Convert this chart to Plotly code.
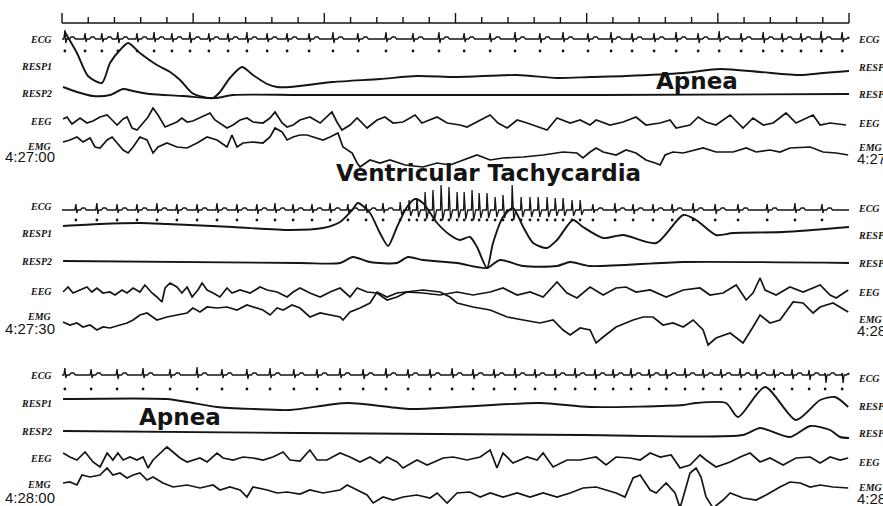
import plotly.graph_objects as go

# ---------------- data (seconds within each 30 s epoch; amplitudes in trace units) -------------
ruler_ticks = list(range(0, 31))
ruler_major_every = 5

# ---- Epoch 1 (4:27:00) ----
p1_ecg_t = [0.11, 0.88, 1.52, 2.13, 2.86, 3.51, 4.19, 4.88, 5.60, 6.33, 7.05, 7.82, 8.58, 9.42,
            10.33, 11.28, 12.35, 13.38, 14.37, 15.33, 16.32, 17.27, 18.22, 19.10, 20.05, 20.93,
            21.73, 22.57, 23.41, 24.25, 25.05, 25.89, 26.73, 27.45, 28.17, 28.94, 29.74]
p1_ecg_r = [9, 6, 6, 7, 6, 7, 6, 7, 6, 6, 7, 6, 6, 6, 7, 6, 7, 6, 7, 6, 6, 7, 6, 7, 6, 7, 6, 6, 7, 6,
            8, 6, 7, 6, 6, 8, 7]
p1_ecg_s = [4, 3, 3, 4, 3, 3, 3, 4, 3, 3, 4, 3, 3, 3, 4, 3, 3, 3, 4, 3, 3, 3, 4, 3, 3, 4, 3, 3, 3, 4,
            3, 3, 4, 3, 3, 4, 3]

p1_resp1_t = [0.11, 0.57, 0.99, 1.52, 1.83, 2.21, 2.52, 2.97, 3.62, 4.12, 4.50, 4.96, 5.38, 5.76,
              6.02, 6.40, 6.86, 7.28, 7.82, 8.20, 8.69, 10.33, 12.12, 13.53, 15.06, 17.35, 18.87,
              20.13, 21.50, 23.68, 25.09, 26.61, 28.14, 29.01, 30.0]
p1_resp1_v = [34, 13, -10, -17, 3, 16, 23, 13, 1, -6, -14, -27, -31, -32, -26, -12, -1, -9, -18,
              -21, -21, -16, -13, -10, -11, -9, -12, -11, -10, -7, -3, -6, -9, -7, -5]

p1_resp2_t = [0.04, 0.57, 1.18, 1.83, 2.33, 2.71, 3.35, 4.61, 5.53, 5.91, 6.52, 9.07, 14.79, 20.51, 30.0]
p1_resp2_v = [6, 1, -3, -2, 4, 2, -1, -3, -5, -5, -2, -2, -2, -2, -1]

p1_eeg_t = [0.04, 0.19, 0.38, 0.69, 0.95, 1.18, 1.45, 1.72, 1.91, 2.10, 2.33, 2.48, 2.67, 2.86,
            3.09, 3.28, 3.47, 3.66, 3.93, 4.12, 4.38, 4.57, 4.77, 4.99, 5.26, 5.64, 5.83, 6.02,
            6.29, 6.52, 6.79, 7.05, 7.28, 7.66, 7.93, 8.12, 8.39, 8.58, 8.81, 9.07, 9.45, 9.84,
            10.10, 10.29, 10.48, 10.67, 10.98, 11.25, 11.63, 12.01, 12.31, 12.62, 13.00, 13.46,
            13.72, 14.30, 14.68, 15.17, 15.44, 15.82, 16.32, 16.62, 16.97, 17.35, 17.73, 18.49,
            18.87, 19.37, 19.75, 20.13, 20.36, 20.89, 21.39, 21.88, 22.26, 22.80, 23.18, 23.41,
            23.94, 24.25, 24.55, 24.93, 25.47, 25.96, 26.34, 26.73, 27.11, 27.60, 27.98, 28.63,
            28.90, 29.28, 29.89]
p1_eeg_v = [3, 5, -2, 4, -1, 1, 5, 7, 2, -3, 3, 5, -6, -8, -1, 5, 14, 7, -5, -3, 0, 4, 0, 1, 4, 9,
            2, -1, -6, -3, 2, 4, 0, -1, 4, 10, -1, -5, -3, 2, 5, -1, 5, 10, 0, -8, -3, 4, -6, 2, 5,
            -1, 0, 7, -1, 5, -1, -3, -5, 0, 7, -1, -6, 2, -1, -8, 4, -1, 2, -3, 2, -3, 0, 5, -3,
            -1, 2, -6, -3, 5, 0, -3, 7, -6, 4, -3, -1, 9, -1, 7, -3, -1, -3]

p1_emg_t = [0.04, 0.30, 0.57, 0.80, 1.07, 1.26, 1.45, 1.72, 1.91, 2.10, 2.33, 2.52, 2.71, 2.97,
            3.24, 3.47, 3.66, 4.00, 4.38, 4.77, 5.15, 5.53, 5.91, 6.29, 6.48, 6.67, 6.90, 7.28,
            7.66, 7.93, 8.12, 8.39, 8.58, 8.81, 9.07, 9.34, 9.72, 9.95, 10.22, 10.52, 10.71, 11.06,
            11.25, 11.36, 11.74, 12.12, 12.50, 13.08, 13.76, 14.30, 14.79, 15.29, 15.82, 16.32,
            16.81, 17.58, 18.34, 19.10, 19.63, 19.86, 20.13, 20.36, 20.63, 21.12, 21.50, 21.88,
            22.26, 22.61, 22.80, 22.99, 23.29, 23.68, 24.17, 24.44, 24.93, 25.58, 26.08, 26.46,
            26.99, 27.37, 27.75, 28.52, 29.01, 29.51, 29.97]
p1_emg_v = [-2, 0, 3, -2, 2, -7, -8, 0, 3, -3, -10, -13, -7, 3, 0, -13, -7, -3, -7, -8, -3, 3, 0,
            -7, 5, -7, -3, -2, -3, 3, 12, 8, 0, 3, 5, 5, 2, 0, 3, 7, -7, -13, -23, -27, -20, -23,
            -20, -25, -27, -23, -25, -20, -15, -20, -18, -17, -15, -12, -13, -18, -12, -8, -12,
            -15, -10, -13, -20, -23, -25, -15, -12, -13, -10, -8, -12, -12, -8, -12, -10, -12, -8,
            -7, -12, -13, -15]

# ---- Epoch 2 (4:27:30) ----
p2_ecg_t = [0.53, 1.33, 2.10, 2.86, 3.62, 4.38, 5.15, 5.91, 6.67, 7.43, 8.12, 8.81, 9.53, 10.22,
            10.90, 11.59, 12.24, 12.89, 13.23, 13.53, 13.84, 14.14, 14.45, 14.75, 15.06, 15.33,
            15.63, 15.90, 16.20, 16.51, 16.81, 17.16, 17.50, 17.84, 18.15, 18.49, 18.80, 19.10,
            19.44, 19.75, 20.24, 21.08, 21.77, 22.53, 23.26, 24.06, 24.90, 25.77, 26.88, 27.94,
            28.97]
p2_ecg_r = [6, 7, 6, 6, 7, 6, 6, 7, 6, 6, 7, 6, 6, 7, 6, 6, 7, 8, 10, 12, 18, 20, 25, 23, 18, 18,
            20, 17, 17, 13, 15, 25, 13, 13, 13, 13, 12, 12, 10, 10, 6, 7, 6, 6, 6, 7, 6, 6, 6, 7, 6]
p2_ecg_s = [3, 4, 3, 3, 3, 4, 3, 3, 3, 4, 3, 3, 3, 3, 4, 3, 3, 5, 6, 7, 9, 10, 10, 9, 8, 9, 10, 8,
            8, 7, 8, 10, 7, 7, 7, 7, 6, 6, 6, 5, 3, 3, 4, 3, 3, 3, 4, 3, 3, 3, 3]

p2_resp1_t = [0.04, 1.45, 2.97, 4.00, 6.52, 8.69, 9.95, 10.60, 11.06, 11.28, 11.74, 12.12, 12.43,
              12.77, 13.15, 13.46, 13.76, 14.30, 14.79, 15.17, 15.55, 15.82, 16.20, 16.43, 16.81,
              17.19, 17.58, 17.96, 18.49, 18.87, 19.48, 19.86, 20.63, 21.39, 22.65, 23.68, 24.17,
              24.93, 25.58, 27.49, 30.0]
p2_resp1_v = [7, 9, 10, 9, 6, 3, 5, 11, 23, 30, 20, 0, -13, 6, 26, 34, 30, 10, -2, -7, -4, -14,
              -35, -10, 16, 25, 6, -10, -15, -7, 13, 6, -5, -2, -10, 18, 13, -2, 0, 1, 6]

p2_resp2_t = [0.04, 9.07, 10.60, 11.09, 11.74, 12.77, 13.19, 13.76, 15.06, 15.82, 16.20, 16.70,
              17.58, 18.87, 19.37, 20.13, 23.68, 30.0]
p2_resp2_v = [0, -2, -2, 4, -1, -2, 4, 1, -2, -6, -7, 1, -5, -5, -1, -5, -1, -2]

p2_eeg_t = [0.04, 0.23, 0.42, 0.69, 0.95, 1.14, 1.33, 1.56, 1.83, 2.02, 2.29, 2.48, 2.71, 2.97,
            3.16, 3.43, 3.62, 3.81, 3.93, 4.12, 4.38, 4.57, 4.77, 4.96, 5.18, 5.34, 5.53, 5.76,
            6.02, 6.29, 6.48, 6.79, 7.17, 7.55, 7.82, 8.20, 8.58, 8.81, 9.07, 9.45, 9.84, 10.22,
            10.60, 10.98, 11.25, 11.63, 12.01, 12.39, 12.77, 13.15, 13.76, 14.41, 15.06, 15.67,
            16.32, 16.81, 17.35, 17.84, 18.34, 18.87, 19.25, 19.63, 20.13, 20.63, 21.12, 21.50,
            21.88, 22.42, 23.03, 23.68, 24.32, 24.70, 25.20, 25.70, 26.08, 26.34, 26.61, 26.80,
            27.22, 27.75, 28.25, 28.90, 29.28, 29.51, 29.97]
p2_eeg_v = [0, 5, -1, 2, 5, 0, 4, -1, 0, -3, 2, -1, 4, 0, 7, -1, -5, -10, 4, 9, 5, -1, 5, -5, 2,
            9, 2, -1, -5, 4, -1, 2, -1, 5, 2, 0, -5, 0, 4, -1, -5, 0, 4, -5, 4, 0, -1, -8, -5, 0,
            -1, -3, 0, -3, 0, 4, -3, 0, -5, 10, -1, -6, 5, -3, 4, 5, 0, 2, -5, 2, 4, -3, -1, 7, -8,
            -1, 14, 2, -3, 5, 0, 7, -3, -6, 2]

p2_emg_t = [0.04, 0.30, 0.57, 0.80, 1.07, 1.33, 1.56, 1.83, 2.21, 2.48, 2.71, 2.97, 3.24, 3.62,
            4.00, 4.38, 4.77, 4.99, 5.26, 5.53, 5.91, 6.29, 6.67, 7.05, 7.28, 7.66, 7.93, 8.20,
            8.43, 8.77, 9.07, 9.45, 9.84, 10.22, 10.60, 10.71, 10.98, 11.36, 11.74, 12.01, 12.39,
            12.77, 13.15, 13.76, 14.41, 14.79, 15.06, 15.67, 16.32, 16.97, 17.58, 18.22, 18.72,
            19.10, 19.37, 19.75, 20.13, 20.36, 20.63, 21.12, 21.77, 22.15, 22.53, 22.91, 23.29,
            23.68, 24.06, 24.44, 24.63, 24.93, 25.47, 25.96, 26.34, 26.61, 26.99, 27.37, 27.87,
            28.25, 28.63, 28.90, 29.39, 29.66, 29.97]
p2_emg_v = [-4, -7, -5, -9, -7, -12, -9, -10, -7, -5, -2, 3, 5, -2, 1, 3, 5, 10, 6, 11, 10, 11, 8,
            13, 11, 8, 3, 10, 8, 13, 10, 1, 5, 3, 1, -2, 6, 10, 15, 26, 21, 25, 26, 28, 26, 21,
            15, 11, 8, 1, -2, -5, -2, -12, -17, -10, -12, -25, -19, -9, -2, 1, 1, -7, -5, -9, -2,
            -12, -27, -20, -15, -25, -9, 3, -5, -2, 16, 15, 5, 11, 15, 11, 6]

# ---- Epoch 3 (4:28:00) ----
p3_ecg_t = [0.11, 1.11, 2.10, 3.09, 4.12, 5.15, 6.10, 7.05, 7.93, 8.84, 9.72, 10.60, 11.48, 12.35,
            13.19, 14.03, 14.87, 15.67, 16.47, 17.27, 18.03, 18.80, 19.56, 20.32, 21.01, 21.69,
            22.38, 23.03, 23.75, 24.44, 25.12, 25.85, 26.46, 27.14, 27.83, 28.48, 29.09, 29.74]
p3_ecg_r = [7, 6, 6, 7, 6, 8, 6, 6, 7, 6, 6, 7, 6, 7, 6, 6, 7, 6, 6, 7, 6, 6, 7, 6, 6, 7, 6, 6, 7,
            6, 6, 7, 6, 6, 6, 5, 2, 2]
p3_ecg_s = [3, 3, 4, 3, 3, 3, 3, 4, 3, 3, 3, 3, 4, 3, 3, 3, 3, 4, 3, 3, 3, 3, 3, 4, 3, 3, 3, 4, 3,
            3, 3, 3, 4, 3, 4, 5, 8, 8]

p3_resp1_t = [0.04, 4.00, 4.77, 5.91, 7.28, 8.69, 10.87, 13.27, 15.06, 18.22, 20.13, 23.68, 24.17,
              25.31, 25.77, 26.80, 27.98, 28.90, 29.47, 29.97]
p3_resp1_v = [4, 4, 1, -4, -6, -7, 0, -6, -4, 0, -4, -2, 0, 0, -14, 16, -17, 3, 6, -4]

p3_resp2_t = [0.04, 9.07, 19.86, 25.96, 26.61, 27.75, 28.52, 29.28, 29.66, 30.0]
p3_resp2_v = [0, -2, -4, -4, 3, -6, 5, 1, -6, -7]

p3_eeg_t = [0.04, 0.30, 0.57, 0.88, 1.18, 1.45, 1.72, 1.94, 2.13, 2.33, 2.59, 2.86, 3.09, 3.28,
            3.47, 3.74, 4.00, 4.23, 4.50, 4.77, 5.26, 5.53, 5.91, 6.14, 6.52, 6.90, 7.28, 7.66,
            8.04, 8.43, 8.69, 9.07, 9.45, 9.72, 10.10, 10.60, 10.98, 11.36, 11.74, 12.12, 12.39,
            12.77, 13.00, 13.53, 13.92, 14.53, 14.91, 15.44, 15.94, 16.32, 16.58, 16.81, 17.19,
            17.73, 18.11, 18.34, 18.72, 19.25, 19.75, 20.13, 20.36, 20.74, 21.12, 21.66, 22.04,
            22.42, 22.80, 23.22, 23.56, 23.94, 24.32, 24.55, 24.93, 25.47, 25.85, 26.23, 26.61,
            26.99, 27.49, 27.98, 28.52, 28.90, 29.28, 29.66, 29.97]
p3_eeg_v = [5, 1, -2, 6, -4, -9, 5, -2, 5, -2, 1, -2, 1, -10, -2, 5, 11, 6, 0, -4, 0, -4, 5, 0,
            -2, 1, 0, -2, 1, 6, -2, -3, 8, -2, -2, 5, 1, -4, 1, -5, 1, -4, -10, -2, -7, 0, 1, -2,
            1, 8, -10, 5, -5, 1, -2, 5, -9, -2, -2, 0, 1, -7, 1, 0, -2, 5, 1, 3, -10, -7, 3, -2,
            -9, -4, 1, 5, -4, 0, -7, 0, 1, -5, 1, -2, 0]

p3_emg_t = [0.04, 0.30, 0.57, 0.76, 1.07, 1.45, 1.72, 1.94, 2.21, 2.48, 2.71, 2.97, 3.24, 3.47,
            3.85, 4.23, 4.77, 5.26, 5.76, 6.02, 6.40, 6.79, 7.05, 7.28, 7.82, 8.20, 8.58, 9.07,
            9.45, 9.95, 10.60, 10.87, 11.25, 11.63, 11.86, 12.24, 12.62, 13.00, 13.53, 14.03,
            14.30, 14.68, 15.06, 15.55, 15.94, 16.32, 16.81, 17.35, 17.84, 18.34, 18.87, 19.37,
            19.86, 20.36, 20.74, 21.12, 21.46, 21.77, 22.04, 22.42, 22.65, 23.03, 23.37, 23.56,
            23.94, 24.17, 24.36, 24.55, 24.82, 25.20, 25.47, 25.96, 26.46, 26.84, 27.37, 27.75,
            28.14, 28.52, 28.90, 29.39, 29.97]
p3_emg_v = [0, 1, -2, 8, 6, 8, 15, 8, 10, 5, 8, 10, 3, 6, 0, -4, -2, -5, -2, -7, -4, -7, -14, -4,
            -7, -10, -9, -11, -7, -10, -7, -2, -7, -12, -20, -14, -17, -14, -12, -15, -10, -20,
            -10, -9, -14, -10, -14, -10, -14, -10, -14, -10, -5, -4, -7, -10, -14, 5, 8, -7, -10,
            0, -10, -25, 10, 15, 6, -14, -25, -17, -10, -15, -17, -12, -4, 1, 0, -4, -2, -4, -5]

channel_names = ["ECG", "RESP1", "RESP2", "EEG", "EMG"]
epoch_start_labels = ["4:27:00", "4:27:30", "4:28:00"]
epoch_end_labels = ["4:27:30", "4:28:00", "4:28:30"]
event_labels = ["Apnea", "Ventricular Tachycardia", "Apnea"]

# ---------------- layout geometry (figure pixels) ----------------
W, H = 883, 506
X0_PX, X30_PX = 62, 849
PX_PER_S = (X30_PX - X0_PX) / 30.0
INK = "#141414"

baselines = [
    dict(ecg=39, dots=51, resp1=66, resp2=93, eeg=122, emg=140),
    dict(ecg=210, dots=220, resp1=233, resp2=261, eeg=292, emg=318),
    dict(ecg=375, dots=389, resp1=403, resp2=431, eeg=458, emg=483),
]
left_label_y = [[39, 66, 93, 122, 146], [206, 233, 261, 291, 316], [375, 403, 431, 458, 484]]
right_label_y = [[39, 67, 94, 123, 147], [208, 235, 263, 292, 319], [378, 406, 433, 462, 487]]
start_time_y = [156, 328, 497]
end_time_y = [158, 330, 498]
event_pos = [(697, 81), (488, 173), (180, 417)]

epochs = [
    dict(ecg=(p1_ecg_t, p1_ecg_r, p1_ecg_s), resp1=(p1_resp1_t, p1_resp1_v),
         resp2=(p1_resp2_t, p1_resp2_v), eeg=(p1_eeg_t, p1_eeg_v), emg=(p1_emg_t, p1_emg_v)),
    dict(ecg=(p2_ecg_t, p2_ecg_r, p2_ecg_s), resp1=(p2_resp1_t, p2_resp1_v),
         resp2=(p2_resp2_t, p2_resp2_v), eeg=(p2_eeg_t, p2_eeg_v), emg=(p2_emg_t, p2_emg_v)),
    dict(ecg=(p3_ecg_t, p3_ecg_r, p3_ecg_s), resp1=(p3_resp1_t, p3_resp1_v),
         resp2=(p3_resp2_t, p3_resp2_v), eeg=(p3_eeg_t, p3_eeg_v), emg=(p3_emg_t, p3_emg_v)),
]

fig = go.Figure()


def add_line(x, y, width=1.6, shape="linear", smoothing=None):
    line = dict(color=INK, width=width, shape=shape)
    if smoothing is not None:
        line["smoothing"] = smoothing
    fig.add_trace(go.Scatter(x=x, y=y, mode="lines", line=line,
                             hoverinfo="skip", showlegend=False))


def ecg_waveform(times, r, s):
    xs, ys = [0.0], [0.0]
    for i, tb in enumerate(times):
        gap = (times[i + 1] - tb) if i + 1 < len(times) else 1.0
        if gap > 0.5:
            seg_x = [tb - 0.04, tb, tb + 0.035, tb + 0.07, tb + 0.17, tb + 0.24, tb + 0.34, tb + 0.40]
            seg_y = [0, r[i], -s[i], 0, 0, 2.0, 2.0, 0]
        else:
            seg_x = [tb - 0.02, tb, tb + 0.06, tb + 0.14]
            seg_y = [0, r[i], -s[i], 0]
        for a, b in zip(seg_x, seg_y):
            if 0.0 <= a <= 30.0:
                xs.append(a)
                ys.append(b)
    if xs[-1] < 30.0:
        xs.append(30.0)
        ys.append(0.0)
    return xs, ys


# ruler (seconds)
add_line([0, 30], [23, 23], width=1.6)
tx, ty = [], []
for t in ruler_ticks:
    top = 13 if t % ruler_major_every == 0 else 17
    tx += [t, t, None]
    ty += [23, top, None]
add_line(tx, ty, width=1.4)

for ep, base in zip(epochs, baselines):
    et, er, es = ep["ecg"]
    ex, ey = ecg_waveform(et, er, es)
    add_line(ex, [base["ecg"] - v for v in ey], width=1.3)
    fig.add_trace(go.Scatter(x=et, y=[base["dots"]] * len(et), mode="markers",
                             marker=dict(color=INK, size=2.8), hoverinfo="skip", showlegend=False))
    t, v = ep["resp1"]
    add_line(t, [base["resp1"] - a for a in v], width=1.9, shape="spline", smoothing=0.7)
    t, v = ep["resp2"]
    add_line(t, [base["resp2"] - a for a in v], width=1.9, shape="spline", smoothing=0.7)
    t, v = ep["eeg"]
    add_line(t, [base["eeg"] - a for a in v], width=1.7)
    t, v = ep["emg"]
    add_line(t, [base["emg"] - a for a in v], width=1.7)

ann = []
label_font = dict(family="Liberation Serif, Times New Roman, serif", size=10, color=INK)
time_font = dict(family="Liberation Sans, Arial, sans-serif", size=15, color=INK)
event_font = dict(family="DejaVu Sans, Arial, sans-serif", size=23, color=INK)

for p in range(3):
    for name, yl, yr in zip(channel_names, left_label_y[p], right_label_y[p]):
        ann.append(dict(x=54 / W, y=1 - yl / H, xref="paper", yref="paper", text=f"<b><i>{name}</i></b>",
                        showarrow=False, xanchor="right", yanchor="middle", font=label_font))
        ann.append(dict(x=856 / W, y=1 - yr / H, xref="paper", yref="paper", text=f"<b><i>{name}</i></b>",
                        showarrow=False, xanchor="left", yanchor="middle", font=label_font))
    ann.append(dict(x=57 / W, y=1 - start_time_y[p] / H, xref="paper", yref="paper",
                    text=epoch_start_labels[p], showarrow=False, xanchor="right", yanchor="middle",
                    font=time_font))
    ann.append(dict(x=855 / W, y=1 - end_time_y[p] / H, xref="paper", yref="paper",
                    text=epoch_end_labels[p], showarrow=False, xanchor="left", yanchor="middle",
                    font=time_font))
    ex_, ey_ = event_pos[p]
    ann.append(dict(x=ex_ / W, y=1 - ey_ / H, xref="paper", yref="paper", text=f"<b>{event_labels[p]}</b>",
                    showarrow=False, xanchor="center", yanchor="middle", font=event_font))

fig.update_layout(
    width=W, height=H, margin=dict(l=0, r=0, t=0, b=0),
    paper_bgcolor="white", plot_bgcolor="white",
    xaxis=dict(visible=False, range=[-X0_PX / PX_PER_S, (W - X0_PX) / PX_PER_S], fixedrange=True),
    yaxis=dict(visible=False, range=[H, 0], fixedrange=True),
    annotations=ann, showlegend=False,
)

fig.write_html("out.html")
